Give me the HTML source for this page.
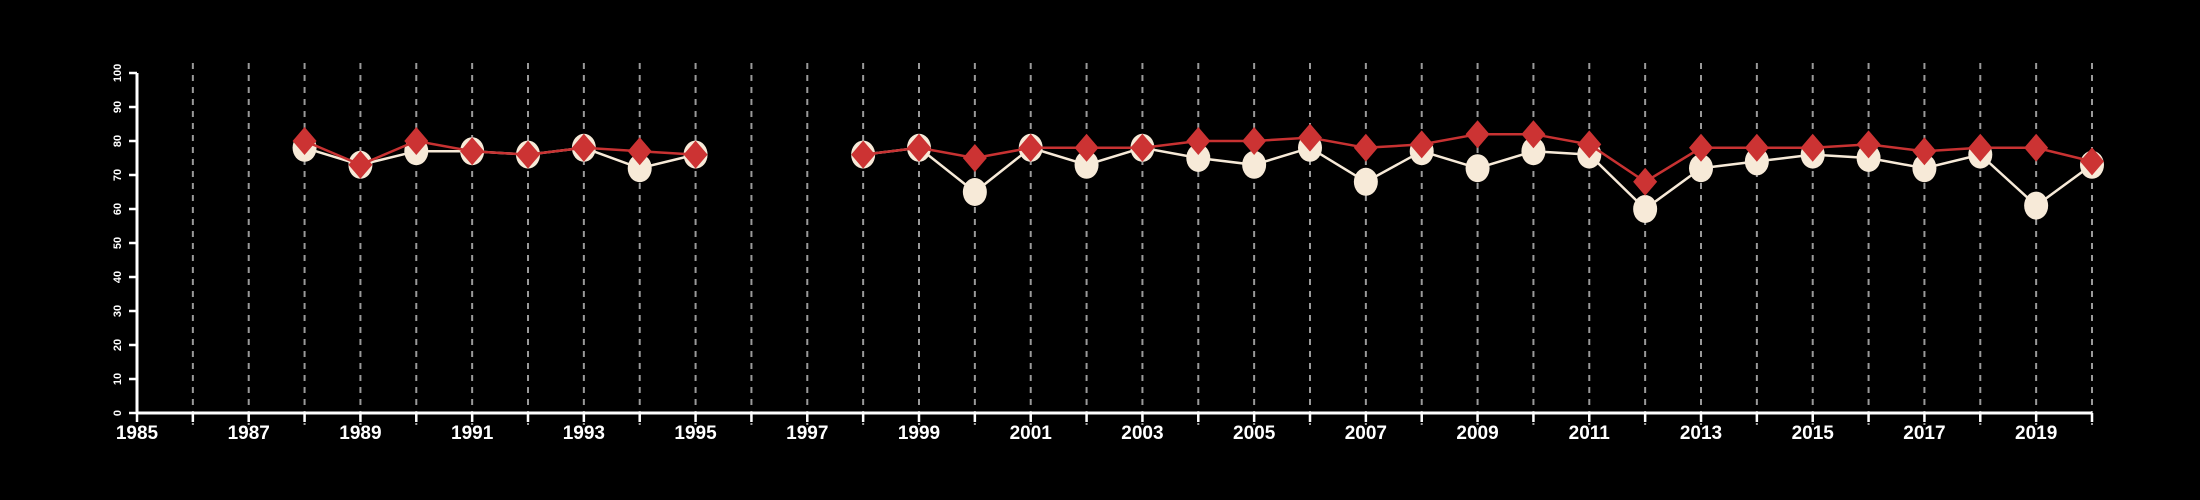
<!DOCTYPE html>
<html><head><meta charset="utf-8"><style>
html,body{margin:0;padding:0;background:#000;}
svg{display:block;font-family:"Liberation Sans",sans-serif;}
</style></head><body>
<svg id="chart" width="2200" height="500" viewBox="0 0 2200 500">
<rect width="2200" height="500" fill="#000"/>
<g id="grid"></g><g id="axes"></g><g id="series"></g>
</svg>
<script>
const years = [1988,1989,1990,1991,1992,1993,1994,1995,1998,1999,2000,2001,2002,2003,2004,2005,2006,2007,2008,2009,2010,2011,2012,2013,2014,2015,2016,2017,2018,2019,2020];
const seriesWhite = [78,73,77,77,76,78,72,76,76,78,65,78,73,78,75,73,78,68,77,72,77,76,60,72,74,76,75,72,76,61,73];
const seriesRed = [80,73,80,77,76,78,77,76,76,78,75,78,78,78,80,80,81,78,79,82,82,79,68,78,78,78,79,77,78,78,74];
const yTicks = [0,10,20,30,40,50,60,70,80,90,100];
const xMin = 1985, xMax = 2020;

const NS = "http://www.w3.org/2000/svg";
const X0 = 137, X1 = 2092, Y0 = 413, Y1 = 73;
const xs = v => X0 + (v - xMin) / (xMax - xMin) * (X1 - X0);
const ys = v => Y0 - v / 100 * (Y0 - Y1);
function mk(tag, attrs, parent) {
  const e = document.createElementNS(NS, tag);
  for (const k in attrs) e.setAttribute(k, attrs[k]);
  parent.appendChild(e);
  return e;
}
const grid = document.getElementById('grid');
const axes = document.getElementById('axes');
const ser = document.getElementById('series');

for (let yr = xMin; yr <= xMax; yr++) {
  if (yr > xMin) {
    const g = mk('line', {x1: xs(yr), x2: xs(yr), y1: Y1 - 10, y2: Y0 + 12, stroke: '#9a9a9a', 'stroke-width': 2, 'stroke-dasharray': '6,6'}, grid);
    
    
  }
  const t = mk('line', {x1: xs(yr), x2: xs(yr), y1: Y0, y2: Y0 + 9, stroke: '#fff', 'stroke-width': 2.5}, axes);
  
  
  if ((yr - xMin) % 2 === 0) {
    const l = mk('text', {x: xs(yr), y: 439, fill: '#fff', 'font-size': 19, 'font-weight': 'bold', 'text-anchor': 'middle'}, axes);
    l.textContent = yr;
    
    
  }
}
const xa = mk('line', {x1: X0, x2: X1, y1: Y0, y2: Y0, stroke: '#fff', 'stroke-width': 3}, axes);


const ya = mk('line', {x1: X0, x2: X0, y1: Y0, y2: Y1, stroke: '#fff', 'stroke-width': 3}, axes);


yTicks.forEach(v => {
  const t = mk('line', {x1: X0 - 8, x2: X0, y1: ys(v), y2: ys(v), stroke: '#fff', 'stroke-width': 2.5}, axes);
  
  
  const l = mk('text', {x: 0, y: 0, fill: '#fff', 'font-size': 11, 'font-weight': 'bold', 'text-anchor': 'middle', transform: `translate(121,${ys(v)}) rotate(-90)`}, axes);
  l.textContent = v;
  
  
});

function pathFor(vals) {
  let d = '';
  years.forEach((yr, i) => {
    const gap = i === 0 || yr - years[i - 1] > 1;
    d += (gap ? 'M' : 'L') + xs(yr) + ',' + ys(vals[i]);
  });
  return d;
}
const wl = mk('path', {d: pathFor(seriesWhite), fill: 'none', stroke: '#f7ead8', 'stroke-width': 2.5}, ser);


years.forEach((yr, i) => {
  const c = mk('ellipse', {cx: xs(yr), cy: ys(seriesWhite[i]), rx: 12, ry: 14, fill: '#f7ead8'}, ser);
  
  
});
const rl = mk('path', {d: pathFor(seriesRed), fill: 'none', stroke: '#c83232', 'stroke-width': 2.5}, ser);


years.forEach((yr, i) => {
  const x = xs(yr), y = ys(seriesRed[i]);
  const p = mk('polygon', {points: `${x},${y-14} ${x+12},${y} ${x},${y+14} ${x-12},${y}`, fill: '#cc3333'}, ser);
  
  
});
</script>
</body></html>
